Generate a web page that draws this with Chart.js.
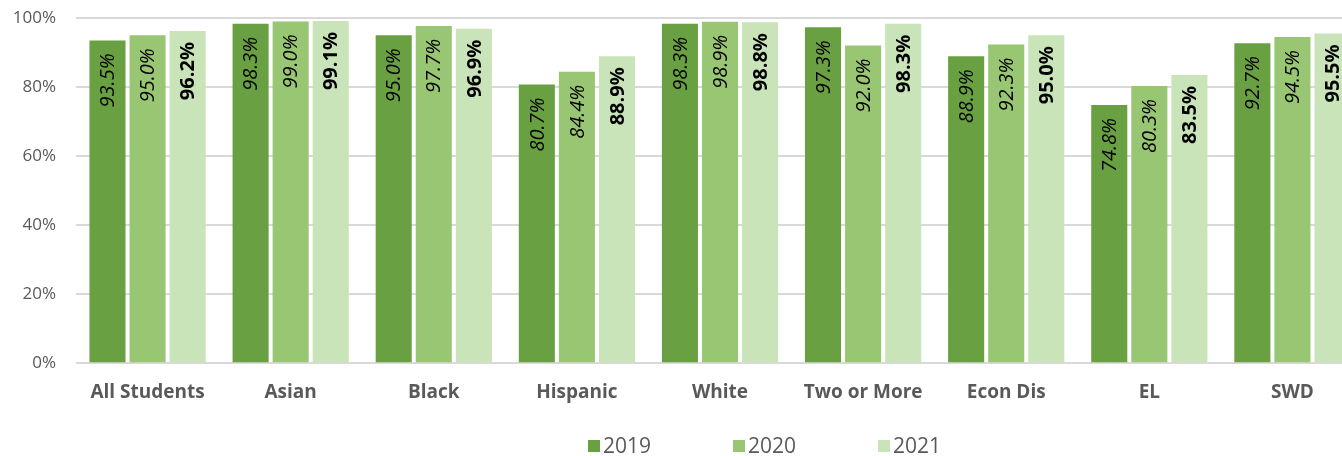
<!DOCTYPE html>
<html>
<head>
<meta charset="utf-8">
<script src="https://cdn.jsdelivr.net/npm/chart.js@4"></script>
<style>
  html, body { margin: 0; padding: 0; background: #fff; overflow: hidden; }
  #wrap { width: 1364px; height: 456px; }
</style>
</head>
<body>
<div id="wrap"><canvas id="gradChart" width="1364" height="456"></canvas></div>
<script>
const categories = ["All Students", "Asian", "Black", "Hispanic", "White", "Two or More", "Econ Dis", "EL", "SWD"];
const years = ["2019", "2020", "2021"];
const values2019 = [93.5, 98.3, 95.0, 80.7, 98.3, 97.3, 88.9, 74.8, 92.7];
const values2020 = [95.0, 99.0, 97.7, 84.4, 98.9, 92.0, 92.3, 80.3, 94.5];
const values2021 = [96.2, 99.1, 96.9, 88.9, 98.8, 98.3, 95.0, 83.5, 95.5];
const yTicks = [0, 20, 40, 60, 80, 100];

const colors = ["#69a042", "#98c673", "#c9e4b9"];
const FONT = "'Open Sans', sans-serif";
const labelFonts = ["italic 20px " + FONT, "italic 20px " + FONT, "bold 20px " + FONT];

// Rotated value labels inside the top of each bar
const barLabels = {
  id: "barLabels",
  afterDatasetsDraw(chart) {
    const c = chart.ctx;
    chart.data.datasets.forEach((ds, i) => {
      const meta = chart.getDatasetMeta(i);
      meta.data.forEach((bar, j) => {
        c.save();
        c.translate(bar.x, bar.y + 40);
        c.rotate(-Math.PI / 2);
        c.font = labelFonts[i];
        c.fillStyle = "#000";
        c.textAlign = "center";
        c.textBaseline = "middle";
        c.fillText(ds.data[j].toFixed(1) + "%", 0, 1);
        c.restore();
      });
    });
  }
};

// Legend drawn under the chart with wide item spacing (like the original)
const wideLegend = {
  id: "wideLegend",
  afterDraw(chart) {
    const c = chart.ctx;
    let x = 588;
    const y = 446;
    c.save();
    c.font = "21px " + FONT;
    c.textBaseline = "middle";
    c.textAlign = "left";
    chart.data.datasets.forEach(ds => {
      c.fillStyle = ds.backgroundColor;
      c.fillRect(x, y - 6, 12, 12);
      c.fillStyle = "#595959";
      c.fillText(ds.label, x + 15, y + 1);
      x += 145;
    });
    c.restore();
  }
};

const ctx = document.getElementById("gradChart").getContext("2d");
new Chart(ctx, {
  type: "bar",
  data: {
    labels: categories,
    datasets: [values2019, values2020, values2021].map((d, i) => ({
      label: years[i],
      data: d,
      backgroundColor: colors[i],
      borderWidth: 0,
      categoryPercentage: 0.84,
      barPercentage: 0.9
    }))
  },
  options: {
    responsive: false,
    animation: false,
    devicePixelRatio: 1,
    layout: { padding: { top: 18, left: 0, right: 0, bottom: 34 } },
    plugins: {
      tooltip: { enabled: false },
      legend: { display: false }
    },
    scales: {
      x: {
        grid: { display: false, drawTicks: false },
        border: { display: false },
        ticks: {
          color: "#595959",
          font: { family: FONT, size: 19, weight: "bold" },
          padding: 18,
          maxRotation: 0
        }
      },
      y: {
        min: 0,
        max: 100,
        afterFit(scale) { scale.width = 76; },
        afterBuildTicks(scale) { scale.ticks = yTicks.map(v => ({ value: v })); },
        grid: { color: "#d9d9d9", lineWidth: 2, tickLength: 20, tickColor: "rgba(0,0,0,0)" },
        border: { display: false },
        ticks: {
          color: "#595959",
          font: { family: FONT, size: 17 },
          padding: 0,
          callback: v => v + "%"
        }
      }
    }
  },
  plugins: [barLabels, wideLegend]
});
</script>
</body>
</html>
